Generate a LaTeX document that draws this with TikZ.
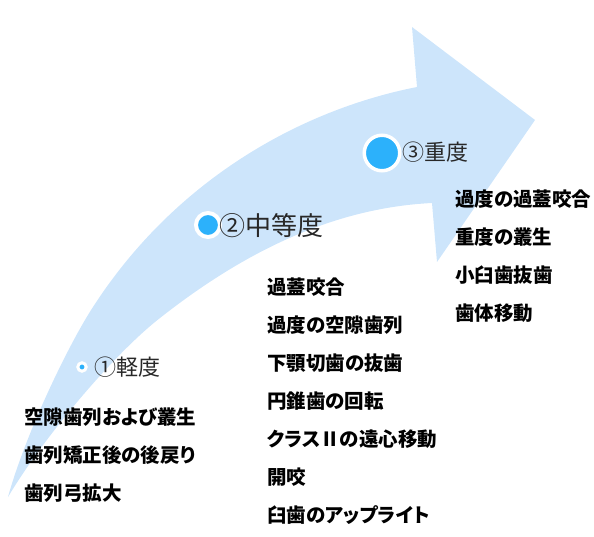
\documentclass[tikz,border=0pt]{standalone}
\usepackage{fontspec}
\newfontfamily\jp{Noto Sans CJK JP}
\newfontfamily\jpp[RawFeature=+palt]{Noto Sans CJK JP}
\definecolor{arrowblue}{RGB}{205,229,251}
\definecolor{dotblue}{RGB}{44,177,251}
\definecolor{headgray}{RGB}{40,40,40}
\tikzset{
  dotnode/.style={circle, fill=dotblue, draw=white, inner sep=0pt},
  headtext/.style={anchor=west, inner sep=0pt, text=headgray, font=\jp\fontsize{22}{22}\selectfont},
  itemtext/.style={anchor=west, inner sep=0pt, text=black, font=\jpp\bfseries\fontsize{19.5}{19.5}\selectfont},
}
\begin{document}
\begin{tikzpicture}[x=1pt,y=-1pt]
\useasboundingbox (0,0) rectangle (594,537);
\fill[arrowblue] (8,497) .. controls (26,432) and (70,342) .. (93,307)
  .. controls (175,180) and (300,110) .. (417,87)
  -- (412,27) -- (535,120) -- (437,262) -- (432,203)
  .. controls (330,208) and (240,255) .. (160,318)
  .. controls (115,353) and (45,435) .. (8,497) -- cycle;
% stage 1
\node[dotnode, minimum size=8.4pt, line width=3pt] (d1) at (82,367) {};
\node[headtext] (h1) at (94,367) {①軽度};
\node[itemtext] (a1) at (24,417) {空隙歯列および叢生};
\node[itemtext] (a2) at (24,455) {歯列矯正後の後戻り};
\node[itemtext] (a3) at (24,493) {歯列弓拡大};
% stage 2
\node[dotnode, minimum size=24pt, line width=4pt] (d2) at (208,225) {};
\node[headtext, font=\jp\fontsize{26}{26}\selectfont] (h2) at (219,226) {②中等度};
\node[itemtext] (b1) at (267,287) {過蓋咬合};
\node[itemtext] (b2) at (267,325) {過度の空隙歯列};
\node[itemtext] (b3) at (267,363) {下顎切歯の抜歯};
\node[itemtext] (b4) at (267,401) {円錐歯の回転};
\node[itemtext] (b5) at (267,439) {クラスⅡの遠心移動};
\node[itemtext] (b6) at (267,477) {開咬};
\node[itemtext] (b7) at (267,515) {臼歯のアップライト};
% stage 3
\node[dotnode, minimum size=35.5pt, line width=3.5pt] (d3) at (382,153) {};
\node[headtext] (h3) at (402,152) {③重度};
\node[itemtext] (c1) at (455,199) {過度の過蓋咬合};
\node[itemtext] (c2) at (455,237) {重度の叢生};
\node[itemtext] (c3) at (455,275) {小臼歯抜歯};
\node[itemtext] (c4) at (455,313) {歯体移動};
\end{tikzpicture}
\end{document}
